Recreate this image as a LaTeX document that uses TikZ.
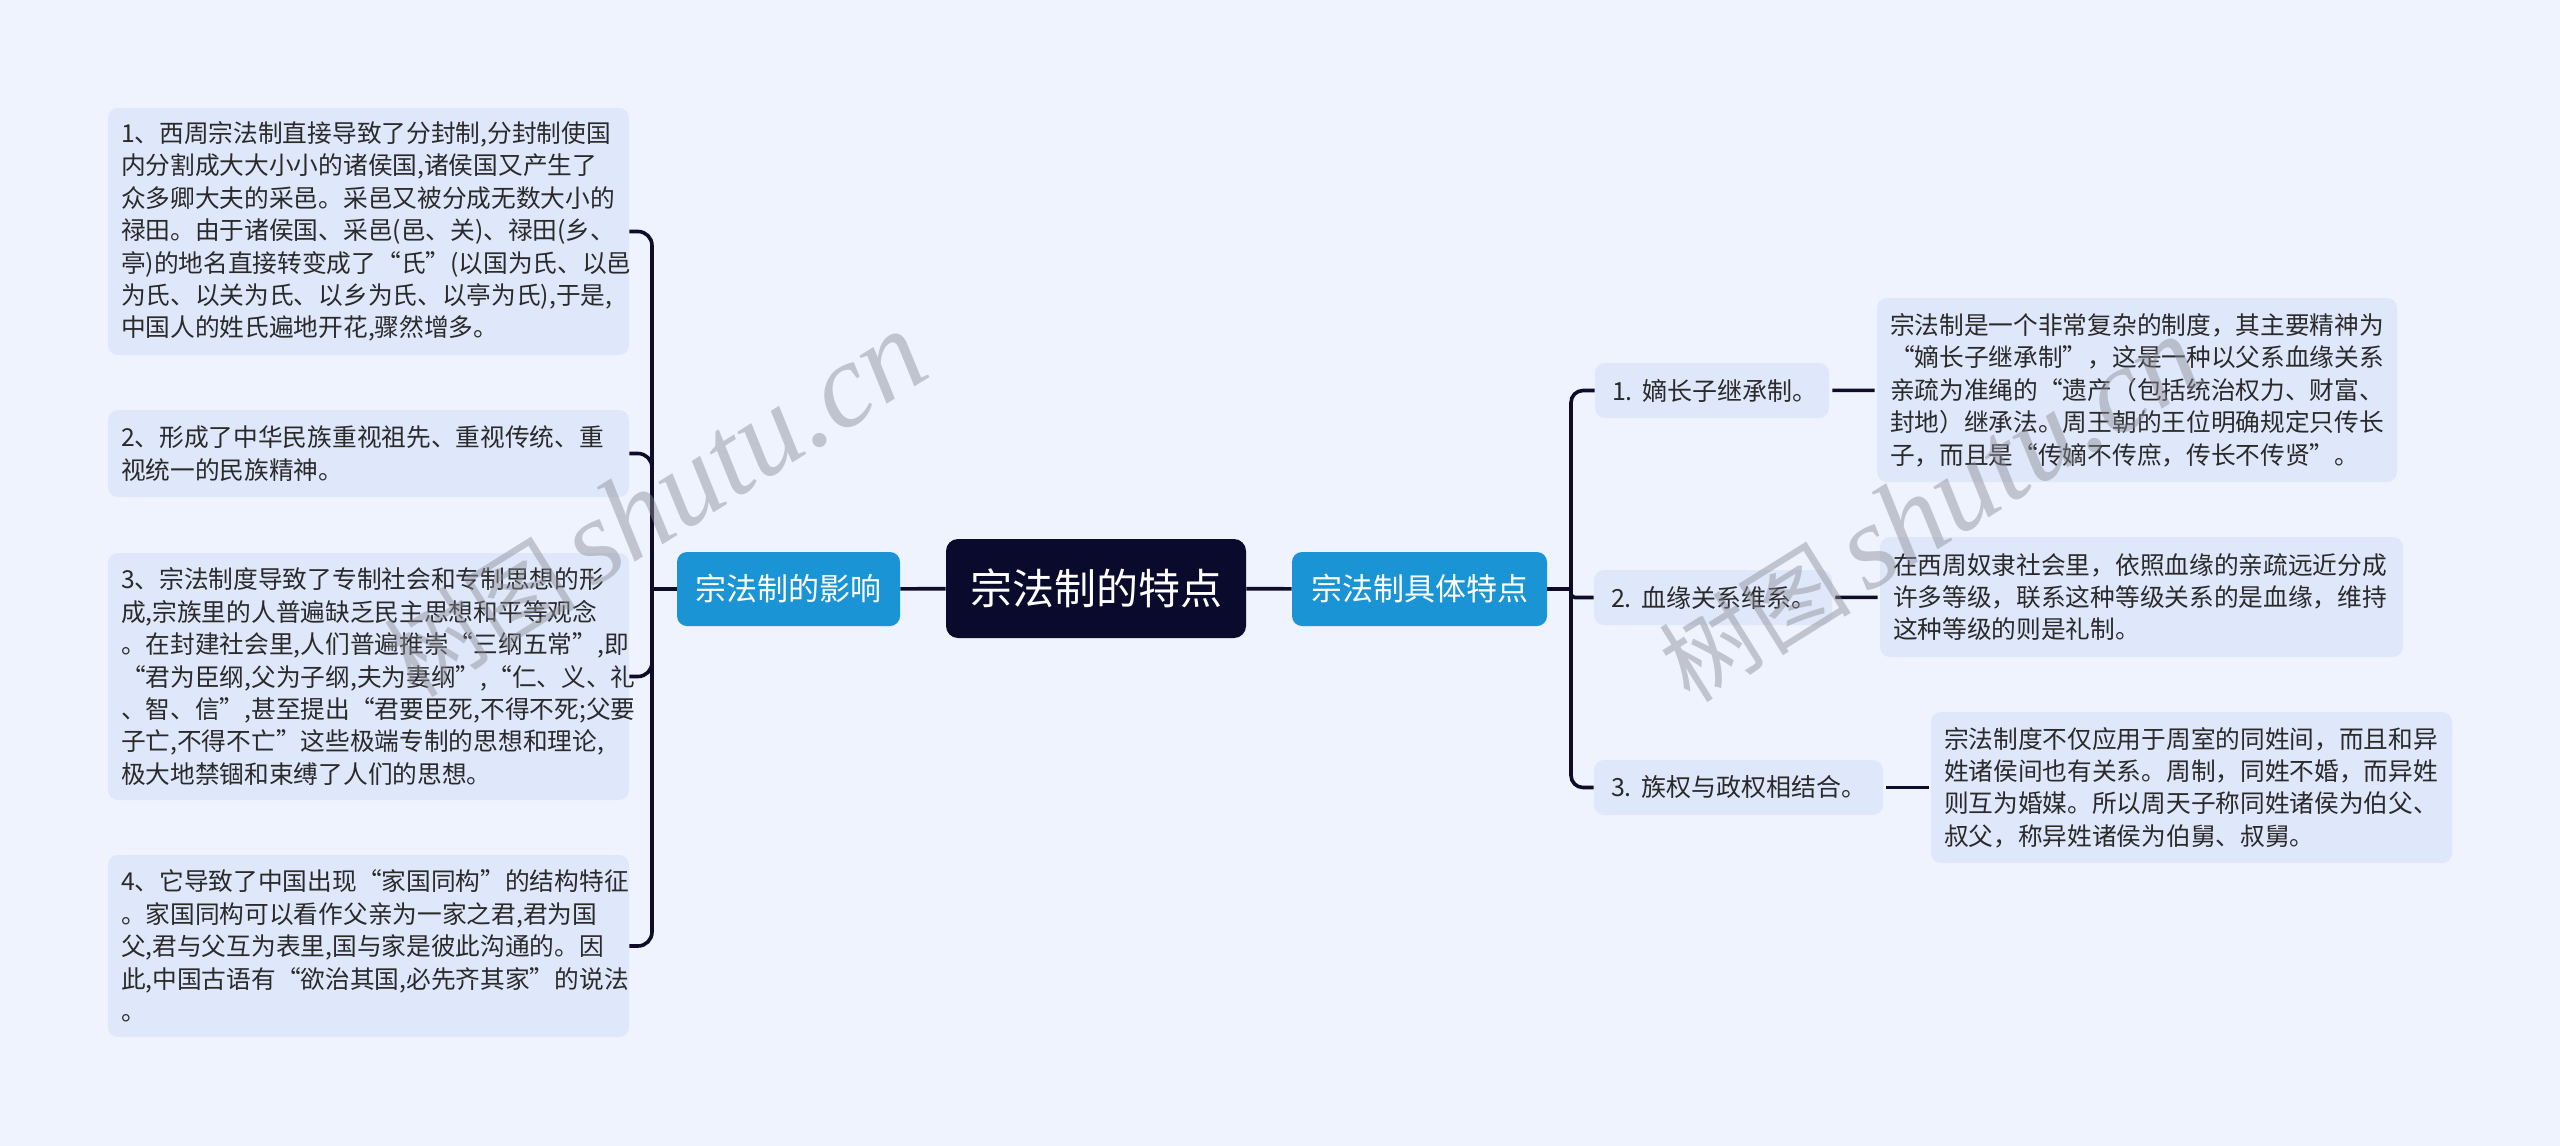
\documentclass[tikz,border=0pt]{standalone}
\usepackage{fontspec}
\setmainfont{Noto Sans CJK SC}
\newfontfamily\wmlatin{Liberation Serif}
\newfontfamily\wmcjk{Noto Sans CJK SC}
\usetikzlibrary{calc}
\definecolor{bgc}{HTML}{EEF3FD}
\definecolor{boxc}{HTML}{DFE8FA}
\definecolor{bluec}{HTML}{1A94D4}
\definecolor{navyc}{HTML}{0A0A2C}
\definecolor{linec}{HTML}{0E0C2A}
\definecolor{txtc}{HTML}{2A2A2A}
\definecolor{wmc}{HTML}{8C8C96}
\begin{document}
\begin{tikzpicture}[x=0.5pt,y=-0.5pt,
  leaf/.style={fill=boxc, rounded corners=5pt, inner xsep=6.5pt, inner ysep=0pt,
    text width=#1, align=left, text=txtc, font=\fontsize{12.35pt}{16.2pt}\selectfont},
  itembox/.style={fill=boxc, rounded corners=5pt, inner xsep=8.5pt, inner ysep=0pt,
    text width=#1, align=left, text=txtc, minimum height=27.5pt,
    font=\fontsize{12.5pt}{15pt}\selectfont},
  midbox/.style={fill=bluec, text=white, rounded corners=5pt, inner sep=0pt,
    minimum width=#1, minimum height=37pt, font=\fontsize{15.5pt}{18pt}\selectfont},
  rootbox/.style={fill=navyc, text=white, rounded corners=6pt, inner sep=0pt,
    minimum width=150pt, minimum height=49.5pt, font=\fontsize{21pt}{24pt}\selectfont},
  conn/.style={draw=linec, line width=1.8pt},
  wm/.style={text=wmc, text opacity=0.45, inner sep=0pt}
]
\fill[bgc] (0,0) rectangle (2560,1146);
\useasboundingbox (0,0) rectangle (2560,1146);

% left leaves
\node[leaf=247.5pt, minimum height=123.5pt] (b1) at (368.5,231.5) {1、西周宗法制直接导致了分封制,分封制使国\\
内分割成大大小小的诸侯国,诸侯国又产生了\\
众多卿大夫的采邑。采邑又被分成无数大小的\\
禄田。由于诸侯国、采邑(邑、关)、禄田(乡、\\
亭)的地名直接转变成了“氏”(以国为氏、以邑\\
为氏、以关为氏、以乡为氏、以亭为氏),于是,\\
中国人的姓氏遍地开花,骤然增多。};
\node[leaf=247.5pt, minimum height=43.5pt] (b2) at (368.5,453.5) {2、形成了中华民族重视祖先、重视传统、重\\
视统一的民族精神。};
\node[leaf=247.5pt, minimum height=123.5pt] (b3) at (368.5,676.5) {3、宗法制度导致了专制社会和专制思想的形\\
成,宗族里的人普遍缺乏民主思想和平等观念\\
。在封建社会里,人们普遍推崇“三纲五常”,即\\
“君为臣纲,父为子纲,夫为妻纲”,“仁、义、礼\\
、智、信”,甚至提出“君要臣死,不得不死;父要\\
子亡,不得不亡”这些极端专制的思想和理论,\\
极大地禁锢和束缚了人们的思想。};
\node[leaf=247.5pt, minimum height=91pt] (b4) at (368.5,946) {4、它导致了中国出现“家国同构”的结构特征\\
。家国同构可以看作父亲为一家之君,君为国\\
父,君与父互为表里,国与家是彼此沟通的。因\\
此,中国古语有“欲治其国,必先齐其家”的说法\\
。};

% middle
\node[midbox=111.5pt] (inf) at (788.5,589) {宗法制的影响};
\node[rootbox] (root) at (1096,588.5) {宗法制的特点};
\node[midbox=127.5pt] (spec) at (1419.5,589) {宗法制具体特点};

% right items
\node[itembox=100pt] (i1) at (1712,390.5) {\mbox{1.\hspace{5pt}嫡长子继承制。}};
\node[itembox=102pt] (i2) at (1713,597.5) {\mbox{2.\hspace{5pt}血缘关系维系。}};
\node[itembox=127.5pt] (i3) at (1738.5,787.5) {\mbox{3.\hspace{5pt}族权与政权相结合。}};

% right descriptions
\node[leaf=247pt, minimum height=92pt] (d1) at (2137,390) {宗法制是一个非常复杂的制度，其主要精神为\\
“嫡长子继承制”，这是一种以父系血缘关系\\
亲疏为准绳的“遗产（包括统治权力、财富、\\
封地）继承法。周王朝的王位明确规定只传长\\
子，而且是“传嫡不传庶，传长不传贤”。};
\node[leaf=248.5pt, minimum height=60pt] (d2) at (2141.5,597) {在西周奴隶社会里，依照血缘的亲疏远近分成\\
许多等级，联系这种等级关系的是血缘，维持\\
这种等级的则是礼制。};
\node[leaf=247.5pt, minimum height=75.5pt] (d3) at (2191.5,787.5) {宗法制度不仅应用于周室的同姓间，而且和异\\
姓诸侯间也有关系。周制，同姓不婚，而异姓\\
则互为婚媒。所以周天子称同姓诸侯为伯父、\\
叔父，称异姓诸侯为伯舅、叔舅。};

% connectors
\coordinate (jl) at (652,589);
\coordinate (jr) at (1571,589);
\draw[conn] (root) -- (inf);
\draw[conn] (inf.west) -- (jl);
\draw[conn, rounded corners=7pt] (jl) |- (b1.east);
\draw[conn, rounded corners=7pt] (jl) |- (b2.east);
\draw[conn, rounded corners=7pt] (jl) |- (b3.east);
\draw[conn, rounded corners=7pt] (jl) |- (b4.east);
\draw[conn] (root) -- (spec);
\draw[conn] (spec.east) -- (jr);
\draw[conn, rounded corners=6pt] (jr) |- (i1.west);
\draw[conn, rounded corners=2pt] (jr) |- (i2.west);
\draw[conn, rounded corners=6pt] (jr) |- (i3.west);
\draw[conn, shorten <=1.5pt, shorten >=1pt] (i1) -- (d1);
\draw[conn, shorten <=1.5pt, shorten >=1pt] (i2) -- (d2);
\draw[conn, shorten <=1.5pt, shorten >=1pt] (i3) -- (d3);

% watermarks
\node[wm, rotate=32] (wm1) at (655,505) {{\wmcjk\fontsize{48pt}{48pt}\selectfont 树图}\hspace{8pt}{\wmlatin\itshape\fontsize{60pt}{60pt}\selectfont shutu.cn}};
\node[wm, rotate=32] (wm2) at (1930,510) {{\wmcjk\fontsize{48pt}{48pt}\selectfont 树图}\hspace{8pt}{\wmlatin\itshape\fontsize{60pt}{60pt}\selectfont shutu.cn}};
\end{tikzpicture}
\end{document}
